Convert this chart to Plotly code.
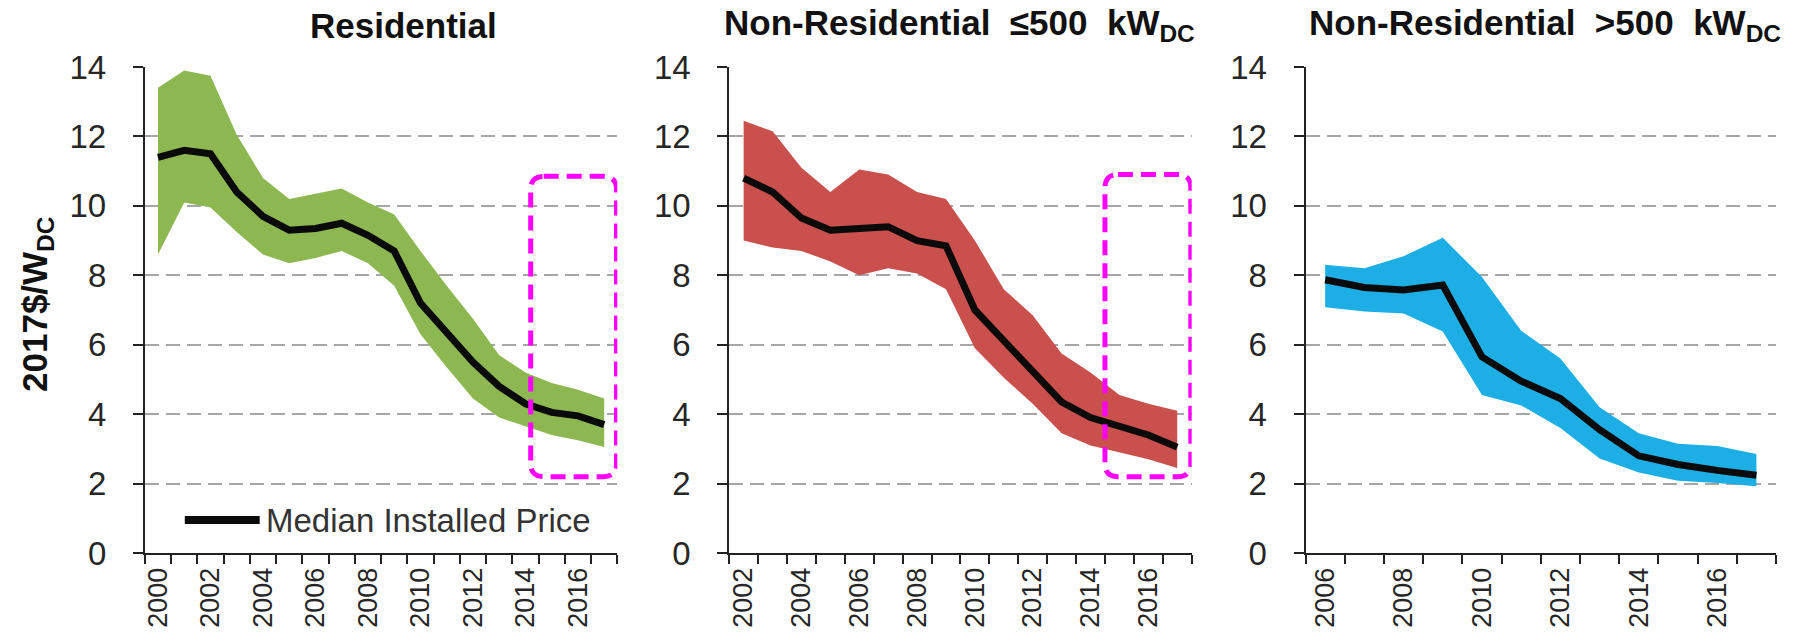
"""
Installed price trends for PV systems by market segment.
Three side-by-side panels: median price line with a shaded
20th-80th percentile band, plus dashed highlight boxes.
"""

import plotly.graph_objects as go

FONT = "Liberation Sans, Arial, sans-serif"

# ---- data (2017$/W_DC) ----
res_years = list(range(2000, 2018))
res_median = [11.4, 11.6, 11.5, 10.4, 9.7, 9.3, 9.35, 9.5, 9.15, 8.7,
              7.2, 6.35, 5.5, 4.8, 4.3, 4.05, 3.95, 3.7]
res_upper = [13.4, 13.9, 13.75, 12.05, 10.8, 10.2, 10.35, 10.5, 10.1, 9.75,
             8.7, 7.7, 6.75, 5.7, 5.2, 4.9, 4.7, 4.45]
res_lower = [8.6, 10.1, 9.95, 9.25, 8.6, 8.35, 8.5, 8.7, 8.35, 7.7,
             6.3, 5.35, 4.45, 3.9, 3.65, 3.4, 3.25, 3.05]

small_years = list(range(2002, 2018))
small_median = [10.8, 10.4, 9.65, 9.3, 9.35, 9.4, 9.0, 8.85,
                7.0, 6.1, 5.25, 4.35, 3.9, 3.65, 3.4, 3.05]
small_upper = [12.45, 12.15, 11.1, 10.4, 11.05, 10.9, 10.4, 10.2,
               9.0, 7.6, 6.85, 5.75, 5.2, 4.55, 4.3, 4.1]
small_lower = [9.0, 8.8, 8.7, 8.4, 8.0, 8.2, 8.05, 7.6,
               5.9, 5.05, 4.3, 3.45, 3.1, 2.9, 2.7, 2.45]

large_years = list(range(2006, 2018))
large_median = [7.87, 7.65, 7.58, 7.72, 5.65, 4.95, 4.45, 3.55,
                2.8, 2.55, 2.38, 2.24]
large_upper = [8.3, 8.2, 8.55, 9.08, 7.95, 6.4, 5.6, 4.2,
               3.45, 3.15, 3.08, 2.85]
large_lower = [7.08, 6.96, 6.9, 6.38, 4.55, 4.25, 3.6, 2.72,
               2.32, 2.08, 2.02, 1.92]

panels = [
    ("Residential", res_years, res_median, res_upper, res_lower, "#8db750"),
    ("Non-Residential  ≤500  kW<sub>DC</sub>", small_years, small_median,
     small_upper, small_lower, "#c9504d"),
    ("Non-Residential  >500  kW<sub>DC</sub>", large_years, large_median,
     large_upper, large_lower, "#1eaee6"),
]

# highlight boxes: (panel index, x0, x1, y0, y1)
highlights = [(0, 2014.2, 2017.47, 2.2, 10.85), (1, 2014.5, 2017.47, 2.2, 10.9)]

# the page body adds an 8px offset, so the figure is drawn 8px smaller
# and every pixel position below is measured on the full 1795x641 image
PAGE_PAD = 8
W, H = 1795 - PAGE_PAD, 641 - PAGE_PAD
TOP, BOTTOM = 67 - PAGE_PAD, 88
PLOT_H = H - TOP - BOTTOM
domains = [(143, 616), (728, 1191), (1305, 1776)]
title_centers = [402, 959, 1545]


def px(pixel_x):
    return (pixel_x - PAGE_PAD) / W


def py(pixel_y):
    return (H - BOTTOM - (pixel_y - PAGE_PAD)) / PLOT_H


fig = go.Figure()

for i, (title, years, med, up, lo, color) in enumerate(panels):
    ax = "" if i == 0 else str(i + 1)
    fig.add_trace(go.Scatter(
        x=years, y=up, mode="lines", line=dict(width=0),
        xaxis="x" + ax, yaxis="y" + ax, showlegend=False, hoverinfo="skip"
    ))
    fig.add_trace(go.Scatter(
        x=years, y=lo, mode="lines", line=dict(width=0),
        fill="tonexty", fillcolor=color,
        xaxis="x" + ax, yaxis="y" + ax, showlegend=False, hoverinfo="skip"
    ))
    fig.add_trace(go.Scatter(
        x=years, y=med, mode="lines", line=dict(color="#0a0a0a", width=7),
        name="Median Installed Price",
        xaxis="x" + ax, yaxis="y" + ax, showlegend=False
    ))

    x0, x1 = domains[i]
    fig.update_layout({
        "xaxis" + ax: dict(
            domain=[px(x0), px(x1)], anchor="y" + ax,
            range=[years[0] - 0.5, years[-1] + 0.5],
            tickvals=[y for y in years if y % 2 == 0],
            ticks="", tickangle=-90, ticklabelstandoff=2,
            tickfont=dict(family=FONT, size=27, color="#262626"),
            showline=True, linecolor="#222", linewidth=2,
            showgrid=False, zeroline=False,
            minor=dict(tickvals=[y - 0.5 for y in years] + [years[-1] + 0.5],
                       ticks="outside", ticklen=9, tickwidth=2,
                       tickcolor="#222", showgrid=False),
        ),
        "yaxis" + ax: dict(
            anchor="x" + ax, range=[0, 14], dtick=2,
            ticks="outside", ticklen=10, tickwidth=2, tickcolor="#222",
            ticklabelstandoff=20,
            tickfont=dict(family=FONT, size=33, color="#262626"),
            showline=True, linecolor="#222", linewidth=2,
            gridcolor="#a6a6a6", gridwidth=2, griddash="14px,7px",
            zeroline=False,
        ),
    })

    fig.add_annotation(
        text="<b>" + title + "</b>", xref="paper", yref="paper",
        x=px(title_centers[i]), y=py(25), xanchor="center", yanchor="middle",
        showarrow=False, font=dict(family=FONT, size=35, color="#111")
    )

# rounded dashed highlight boxes
for i, bx0, bx1, by0, by1 in highlights:
    ax = "" if i == 0 else str(i + 1)
    px_per_x = (domains[i][1] - domains[i][0]) / len(panels[i][1])
    rx = 13 / px_per_x
    ry = 13 / (PLOT_H / 14)
    path = (f"M{bx0 + rx},{by1} L{bx1 - rx},{by1} Q{bx1},{by1} {bx1},{by1 - ry} "
            f"L{bx1},{by0 + ry} Q{bx1},{by0} {bx1 - rx},{by0} "
            f"L{bx0 + rx},{by0} Q{bx0},{by0} {bx0},{by0 + ry} "
            f"L{bx0},{by1 - ry} Q{bx0},{by1} {bx0 + rx},{by1} Z")
    fig.add_shape(type="path", path=path, xref="x" + ax, yref="y" + ax,
                  line=dict(color="#ff00ff", width=5, dash="15px,8px"))

# legend key drawn inside the first panel
fig.add_shape(type="line", xref="paper", yref="paper",
              x0=px(183), x1=px(258), y0=py(520), y1=py(520),
              line=dict(color="#0a0a0a", width=8))
fig.add_annotation(
    text="Median Installed Price", xref="paper", yref="paper",
    x=px(262), y=py(520), xanchor="left", yanchor="middle",
    showarrow=False, font=dict(family=FONT, size=33, color="#333")
)

# y-axis title
fig.add_annotation(
    text="<b>2017$/W<sub>DC</sub></b>", xref="paper", yref="paper",
    x=px(35), y=py(304), xanchor="center", yanchor="middle",
    textangle=-90, showarrow=False, font=dict(family=FONT, size=35, color="#111")
)

fig.update_layout(
    width=W, height=H,
    margin=dict(l=0, r=0, t=TOP, b=BOTTOM),
    paper_bgcolor="white", plot_bgcolor="white",
    showlegend=False,
)

fig.write_html("out.html")
